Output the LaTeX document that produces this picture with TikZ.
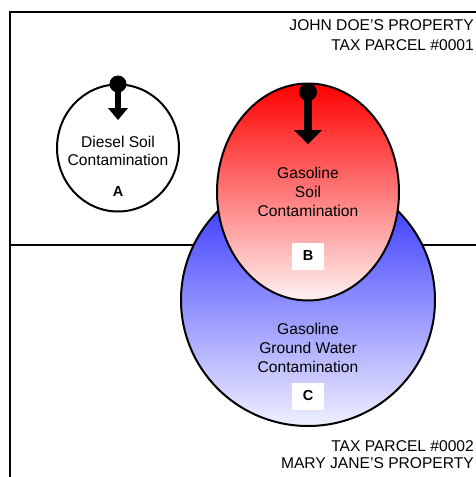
\documentclass[tikz,border=0pt]{standalone}
\usepackage{fontspec}
\setmainfont{Liberation Sans}
\usetikzlibrary{shapes.geometric}
\begin{document}
\begin{tikzpicture}[x=1pt,y=-1pt,
  frameline/.style={line width=2.4pt, black},
  midline/.style={line width=1.4pt, black},
  blob/.style={ellipse, draw=black, line width=2pt, inner sep=0pt},
  inner/.style={align=center, font=\fontsize{15.6}{19}\selectfont, inner sep=0pt},
  prop/.style={anchor=base east, font=\fontsize{15.6}{19}\selectfont, inner sep=0pt},
  lettbox/.style={fill=white, minimum width=32pt, minimum height=27pt, inner sep=0pt, font=\fontsize{14.5}{16}\selectfont\bfseries},
  pinhead/.style={fill=black, draw=none}
]
\useasboundingbox (0,0) rectangle (476,477);
% frame
\coordinate (tl) at (10,12);
\coordinate (tr) at (476,12);
\coordinate (bl) at (10,477);
\coordinate (ml) at (10,245);
\coordinate (mr) at (476,245);
\draw[midline] (ml) -- (mr);
\draw[frameline] (bl) -- (tl) -- (tr);
% C
\node[blob, minimum width=254pt, minimum height=252pt, top color={rgb,255:red,40;green,40;blue,255}, bottom color={rgb,255:red,240;green,240;blue,255}] (C) at (308,300) {};
% B
\node[blob, minimum width=182pt, minimum height=217pt, top color={rgb,255:red,255;green,0;blue,0}, bottom color={rgb,255:red,255;green,242;blue,242}] (B) at (308,192) {};
% A
\node[blob, fill=white, minimum width=122pt, minimum height=127pt] (A) at (118,148) {};
% pins
\coordinate (pa) at (118,84);
\coordinate (pb) at (308,92);
\fill[pinhead] (pa) circle (8.5pt);
\fill[pinhead] (115,84) rectangle (121,109);
\fill[pinhead] (108,108) -- (128,108) -- (118,120) -- cycle;
\fill[pinhead] (pb) circle (9pt);
\fill[pinhead] (304,92) rectangle (312,131);
\fill[pinhead] (294,130) -- (322,130) -- (308,144) -- cycle;
% texts
\node[inner, font=\fontsize{15.6}{18.5}\selectfont] (ta) at (118,151) {Diesel Soil\\Contamination};
\node[inner, font=\fontsize{14.5}{16}\selectfont\bfseries] (la) at (118,192) {A};
\node[inner] (tb) at (308,192) {Gasoline\\Soil\\Contamination};
\node[lettbox] (lb) at (308,256) {B};
\node[inner] (tc) at (308,348) {Gasoline\\Ground Water\\Contamination};
\node[lettbox] (lc) at (308,396) {C};
\node[prop] (p1) at (474,30.5) {JOHN DOE’S PROPERTY};
\node[prop] (p2) at (474,50.5) {TAX PARCEL \#0001};
\node[prop] (p3) at (474,451.5) {TAX PARCEL \#0002};
\node[prop] (p4) at (474,468.5) {MARY JANE’S PROPERTY};
\end{tikzpicture}
\end{document}
